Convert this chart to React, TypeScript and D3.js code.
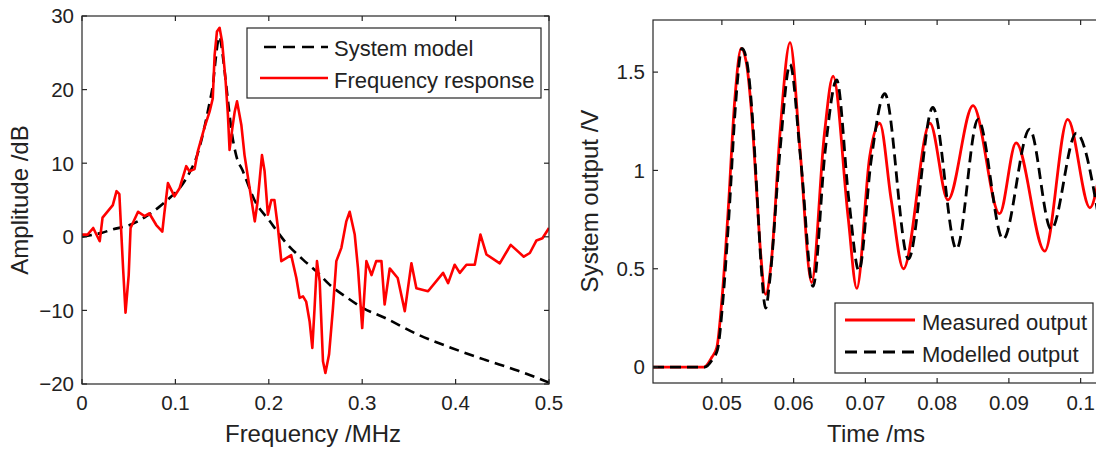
import React from "react";
import * as d3 from "d3";

// ---------- Left plot data: frequency response ----------
const freqModel = [0, 0.02, 0.033, 0.051, 0.069, 0.083, 0.095, 0.1045, 0.115, 0.1223, 0.128, 0.133, 0.137, 0.14, 0.143, 0.1455, 0.1475, 0.149, 0.151, 0.156, 0.16, 0.165, 0.172, 0.185, 0.2, 0.219, 0.2366, 0.251, 0.265, 0.283, 0.301, 0.324, 0.36, 0.3956, 0.4313, 0.467, 0.5];
const ampModel = [0, 0.5, 1.0, 1.6, 2.8, 4.1, 5.4, 6.6, 8.7, 10.7, 13.2, 16.0, 18.5, 20.5, 24.0, 26.5, 27.2, 26.2, 24.3, 18.8, 14.5, 11.1, 9.0, 4.9, 2.3, -0.9, -3.1, -4.7, -6.5, -8.2, -9.7, -11.0, -13.3, -15.1, -16.7, -18.2, -19.8];

const freqMeas = [0, 0.006, 0.012, 0.019, 0.022, 0.033, 0.037, 0.04, 0.042, 0.044, 0.0466, 0.05, 0.052, 0.06, 0.067, 0.072, 0.0795, 0.086, 0.088, 0.092, 0.099, 0.1045, 0.1116, 0.115, 0.1205, 0.124, 0.131, 0.1366, 0.14, 0.142, 0.1445, 0.1473, 0.15, 0.1538, 0.1562, 0.158, 0.161, 0.1635, 0.166, 0.1706, 0.174, 0.1795, 0.185, 0.188, 0.1927, 0.1955, 0.199, 0.2027, 0.206, 0.2098, 0.2134, 0.224, 0.2295, 0.233, 0.2366, 0.24, 0.2437, 0.2466, 0.249, 0.2516, 0.2545, 0.258, 0.2606, 0.2645, 0.2687, 0.2723, 0.2777, 0.283, 0.2866, 0.292, 0.2955, 0.3, 0.3045, 0.31, 0.315, 0.3206, 0.324, 0.3295, 0.338, 0.3456, 0.3527, 0.358, 0.3705, 0.3866, 0.392, 0.399, 0.4045, 0.4116, 0.4205, 0.4266, 0.433, 0.4473, 0.459, 0.473, 0.4795, 0.4866, 0.493, 0.5];
const ampMeas = [0.3, 0.3, 1.2, -0.6, 2.6, 4.3, 6.2, 5.8, 0.7, -4.3, -10.3, -5.2, 1.2, 3.4, 2.8, 3.2, 1.6, 0.7, 3.0, 7.3, 5.5, 6.6, 9.6, 8.9, 9.2, 11.6, 14.8, 17.0, 18.8, 24.7, 27.9, 28.4, 26.5, 21.1, 16.6, 11.8, 14.8, 17.0, 18.4, 15.2, 11.1, 6.6, 2.1, 4.8, 11.1, 8.9, 3.0, 5.0, 5.0, 1.2, -3.3, -2.5, -5.6, -8.3, -8.1, -8.8, -11.5, -15.1, -9.7, -3.3, -6.1, -16.9, -18.5, -16.0, -9.7, -3.3, -1.5, 2.1, 3.4, 0.3, -4.3, -12.4, -3.3, -5.2, -3.3, -3.3, -9.2, -4.3, -5.6, -10.1, -3.6, -7.0, -7.4, -4.9, -6.3, -3.8, -4.9, -3.8, -3.8, 0.3, -2.4, -3.6, -1.1, -2.7, -2.2, -0.5, -0.2, 1.2];

const freqTicks = [0, 0.1, 0.2, 0.3, 0.4, 0.5];
const ampTicks = [-20, -10, 0, 10, 20, 30];

// ---------- Right plot data: time response ----------
const timeMeas = [0.0404, 0.044, 0.0475, 0.0486, 0.0493, 0.05, 0.0509, 0.0518, 0.0527, 0.0534, 0.0541, 0.0548, 0.0554, 0.0561, 0.0569, 0.0581, 0.0595, 0.0609, 0.0625, 0.0643, 0.0655, 0.0676, 0.0688, 0.0706, 0.072, 0.0736, 0.0753, 0.079, 0.0815, 0.085, 0.0887, 0.091, 0.095, 0.0982, 0.1013, 0.1027];
const outMeas = [0, 0, 0, 0.05, 0.1, 0.34, 0.81, 1.36, 1.62, 1.55, 1.31, 0.92, 0.58, 0.37, 0.54, 1.19, 1.65, 1.1, 0.43, 1.19, 1.48, 0.76, 0.4, 1.07, 1.24, 0.85, 0.5, 1.24, 0.85, 1.33, 0.78, 1.14, 0.59, 1.26, 0.81, 1.0];

const timeModel = [0.0404, 0.044, 0.0476, 0.0487, 0.0494, 0.0501, 0.051, 0.0519, 0.0528, 0.0535, 0.0542, 0.0549, 0.0555, 0.0561, 0.0567, 0.0581, 0.0595, 0.061, 0.0627, 0.0644, 0.066, 0.0677, 0.0691, 0.0708, 0.0727, 0.076, 0.0794, 0.0827, 0.0857, 0.0892, 0.0929, 0.0959, 0.0994, 0.1027];
const outModel = [0, 0, 0, 0.04, 0.09, 0.32, 0.78, 1.33, 1.62, 1.55, 1.3, 0.88, 0.5, 0.3, 0.45, 1.1, 1.54, 1.05, 0.41, 1.1, 1.46, 0.85, 0.49, 1.05, 1.39, 0.55, 1.32, 0.6, 1.26, 0.65, 1.21, 0.7, 1.19, 0.72];

const timeTicks = [0.05, 0.06, 0.07, 0.08, 0.09, 0.1];
const outTicks = [0, 0.5, 1, 1.5];

const FONT = "'Liberation Sans', Arial, Helvetica, sans-serif";
const AX = "#262626";
const TXT = "#222";
const RED = "#ff0000";

function Frame({ x0, x1, y0, y1, xs, ys, xTicks, yTicks, xFmt, yFmt, clipRight }: any) {
  const L = 5;
  const right = clipRight ?? x1;
  return (
    <g>
      <rect x={x0} y={y0} width={x1 - x0} height={y1 - y0} fill="none" stroke={AX} strokeWidth={1.2} />
      {xTicks.map((t: number) => (
        <g key={"x" + t}>
          <line x1={xs(t)} x2={xs(t)} y1={y1} y2={y1 - L} stroke={AX} strokeWidth={1.2} />
          <line x1={xs(t)} x2={xs(t)} y1={y0} y2={y0 + L} stroke={AX} strokeWidth={1.2} />
          <text x={xs(t)} y={410} textAnchor="middle" fontSize={20.5} fill={TXT} fontFamily={FONT}>
            {xFmt(t)}
          </text>
        </g>
      ))}
      {yTicks.map((t: number) => (
        <g key={"y" + t}>
          <line x1={x0} x2={x0 + L} y1={ys(t)} y2={ys(t)} stroke={AX} strokeWidth={1.2} />
          {right <= 1096 && <line x1={x1} x2={x1 - L} y1={ys(t)} y2={ys(t)} stroke={AX} strokeWidth={1.2} />}
          <text x={x0 - 8} y={ys(t)} dy="0.36em" textAnchor="end" fontSize={20.5} fill={TXT} fontFamily={FONT}>
            {yFmt(t)}
          </text>
        </g>
      ))}
    </g>
  );
}

export default function App() {
  // Left
  const xL = d3.scaleLinear().domain([0, 0.5]).range([82, 549]);
  const yL = d3.scaleLinear().domain([-20, 30]).range([384, 16]);
  // Right
  const xR = d3.scaleLinear().domain([0.0404, 0.1027]).range([653, 1100]);
  const yR = d3.scaleLinear().domain([-0.081, 1.765]).range([383, 20]);

  const lineModelL = d3
    .line<number>()
    .x((_, i) => xL(freqModel[i]))
    .y((d) => yL(d))
    .curve(d3.curveMonotoneX)(ampModel) as string;
  const lineMeasL = d3
    .line<number>()
    .x((_, i) => xL(freqMeas[i]))
    .y((d) => yL(d))(ampMeas) as string;

  const lineMeasR = d3
    .line<number>()
    .x((_, i) => xR(timeMeas[i]))
    .y((d) => yR(d))
    .curve(d3.curveMonotoneX)(outMeas) as string;
  const lineModelR = d3
    .line<number>()
    .x((_, i) => xR(timeModel[i]))
    .y((d) => yR(d))
    .curve(d3.curveMonotoneX)(outModel) as string;

  const fmtL = (v: number) => (v === 0 ? "0" : d3.format("")(v));
  const fmtT = (v: number) => (v === 0.1 ? "0.1" : d3.format(".2f")(v));

  return (
    <svg width={1096} height={452} style={{ position: "absolute", left: 0, top: 0, background: "#fff" }}>
      <defs>
        <clipPath id="clipL">
          <rect x={82} y={16} width={467} height={368} />
        </clipPath>
        <clipPath id="clipR">
          <rect x={653} y={20} width={447} height={363} />
        </clipPath>
      </defs>
      <rect x={0} y={0} width={1096} height={452} fill="#fff" />

      {/* Left plot */}
      <g clipPath="url(#clipL)">
        <path d={lineModelL} fill="none" stroke="#000" strokeWidth={2.6} strokeDasharray="10 6" />
        <path d={lineMeasL} fill="none" stroke={RED} strokeWidth={2.6} strokeLinejoin="round" />
      </g>
      <Frame x0={82} x1={549} y0={16} y1={384} xs={xL} ys={yL} xTicks={freqTicks} yTicks={ampTicks} xFmt={(v: number) => String(v)} yFmt={fmtL} />
      {/* Left legend */}
      <g>
        <rect x={247} y={28} width={294} height={70} fill="#fff" stroke={AX} strokeWidth={1.2} />
        <line x1={264} x2={328} y1={47} y2={47} stroke="#000" strokeWidth={2.6} strokeDasharray="12 7" />
        <line x1={260} x2={328} y1={78} y2={78} stroke={RED} strokeWidth={2.6} />
        <text x={334} y={56} fontSize={22} fill={TXT} fontFamily={FONT}>System model</text>
        <text x={334} y={88} fontSize={22} fill={TXT} fontFamily={FONT}>Frequency response</text>
      </g>
      <text x={313} y={442} textAnchor="middle" fontSize={24} fill={TXT} fontFamily={FONT}>Frequency /MHz</text>
      <text transform="translate(28,200) rotate(-90)" textAnchor="middle" fontSize={24} fill={TXT} fontFamily={FONT}>Amplitude /dB</text>

      {/* Right plot */}
      <g clipPath="url(#clipR)">
        <path d={lineMeasR} fill="none" stroke={RED} strokeWidth={2.8} />
        <path d={lineModelR} fill="none" stroke="#000" strokeWidth={2.8} strokeDasharray="11 6" />
      </g>
      <Frame x0={653} x1={1100} y0={20} y1={383} xs={xR} ys={yR} xTicks={timeTicks} yTicks={outTicks} xFmt={fmtT} yFmt={(v: number) => String(v)} clipRight={1100} />
      {/* Right legend */}
      <g>
        <rect x={835} y={303} width={258} height={70} fill="#fff" stroke={AX} strokeWidth={1.2} />
        <line x1={845} x2={915} y1={320} y2={320} stroke={RED} strokeWidth={2.8} />
        <line x1={845} x2={915} y1={352} y2={352} stroke="#000" strokeWidth={2.8} strokeDasharray="12 7" />
        <text x={922} y={330} fontSize={22} fill={TXT} fontFamily={FONT}>Measured output</text>
        <text x={922} y={362} fontSize={22} fill={TXT} fontFamily={FONT}>Modelled output</text>
      </g>
      <text x={876} y={442} textAnchor="middle" fontSize={24} fill={TXT} fontFamily={FONT}>Time /ms</text>
      <text transform="translate(598,201) rotate(-90)" textAnchor="middle" fontSize={24} fill={TXT} fontFamily={FONT}>System output /V</text>
    </svg>
  );
}
